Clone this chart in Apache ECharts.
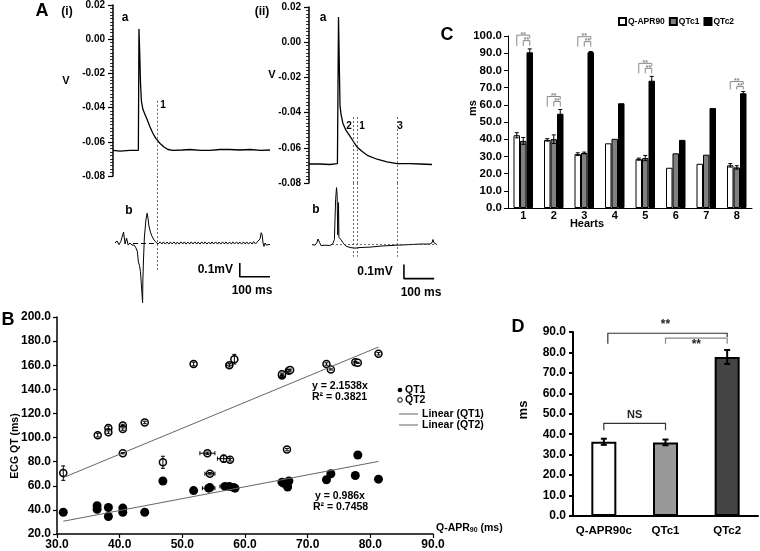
<!DOCTYPE html>
<html><head><meta charset="utf-8">
<script src="https://cdn.jsdelivr.net/npm/echarts@6/dist/echarts.min.js"></script>
<style>html,body{margin:0;padding:0;background:#fff}#c{width:760px;height:551px}</style>
</head><body><div id="c"></div>
<script>
// ---------- Panel A(i): action potential (ms, V) ----------
const apI = [[0,-0.065],[23,-0.0655],[56,-0.065],[84,-0.065],[86,0.006],[88,-0.005],[91,-0.025],[94,-0.036],[99,-0.041],[106,-0.044],[113,-0.047],[122,-0.051],[132,-0.055],[142,-0.058],[156,-0.061],[169,-0.063],[182,-0.0645],[199,-0.065],[230,-0.0648],[255,-0.0645],[290,-0.065],[321,-0.065],[355,-0.0645],[387,-0.0645],[420,-0.0648],[454,-0.0645],[490,-0.065],[520,-0.0648]];
// ECG (mV)
const ecgI = [[7,0],[13,0.015],[20,-0.012],[26,0.012],[31,0.02],[35,0.08],[40,-0.007],[45,0.036],[50,-0.015],[56,0],[63,-0.015],[70,-0.015],[76,-0.036],[81,-0.065],[84,-0.138],[88,-0.167],[91,-0.21],[94,-0.305],[98,-0.436],[99,-0.27],[101,-0.124],[104,0.044],[109,0.167],[113,0.218],[116,0.18],[119,0.124],[124,0.08],[129,0.05],[136,0.022],[142,0.007],[149,-0.007],
[156,0.008],[162,-0.007],[167,0.008],[173,-0.008],[179,0.007],[185,-0.008],[190,0.008],[196,-0.007],[202,0.008],[208,-0.008],[213,0.007],[219,-0.008],[225,0.008],[231,-0.007],[236,0.008],[242,-0.008],[248,0.007],[254,-0.008],[259,0.008],[265,-0.007],[271,0.008],[277,-0.008],[282,0.007],[288,-0.008],[294,0.008],[300,-0.007],[305,0.008],[311,-0.008],[317,0.007],[323,-0.008],[328,0.008],[334,-0.007],[340,0.008],[346,-0.008],[351,0.007],[357,-0.008],[363,0.008],[369,-0.007],[374,0.008],[380,-0.008],[386,0.007],[392,-0.008],[397,0.008],[403,-0.007],[409,0.008],[415,-0.008],[420,0.007],[426,-0.008],[432,0.008],[438,-0.007],[443,0.008],[449,-0.008],[455,0.007],[461,-0.008],[466,0.01],[472,-0.007],[478,0.008],[484,0.0],[487,0.03],[491,0.075],[494,0.06],[497,0.0],[500,-0.025],[504,0.0],[508,-0.015],[514,-0.005],[520,-0.01]];
const markI = [146];            // dotted line "1"
const ecgRefI = [66,146];       // dashed baseline segment
const scaleI = [[420,-0.147],[420,-0.247],[520,-0.247]]; // 0.1 mV / 100 ms

// ---------- Panel A(ii) ----------
const apII = [[0,-0.0692],[36,-0.0692],[69,-0.0695],[94,-0.069],[97.6,0.0143],[100,-0.01],[102.5,-0.036],[106,-0.041],[112,-0.046],[122,-0.05],[136,-0.0535],[149,-0.057],[159,-0.0595],[175,-0.062],[195,-0.0645],[225,-0.0665],[258,-0.068],[291,-0.069],[334,-0.069],[367,-0.0692],[407,-0.0695]];
const ecgII = [[10,0],[20,-0.004],[26,0.014],[30,0.04],[35,0.014],[40,-0.007],[53,-0.004],[69,-0.007],[79,0.007],[84,0.036],[88,0.32],[91,0.407],[93,0.357],[95,0.07],[97.6,0.3],[99,0.05],[101,0.05],[106,0.036],[112,0.014],[122,-0.011],[136,-0.021],[152,-0.025],[169,-0.021],[202,-0.018],[235,-0.011],[291,-0.004],[334,0],[367,0.004],[400,0.004],[407,0.014],[410,0.036],[413,0.014],[423,0]];
const marksII = [145.5,159,291]; // dotted lines "2","1","3"
const ecgRefII = [76,423];
const scaleII = [[314,-0.143],[314,-0.243],[414,-0.243]];

// ---------- Panel C ----------
const heartCats = ['1','2','3','4','5','6','7','8'];
const qapr90 = [42.3,39.6,31.3,37.6,28.4,23.4,25.7,24.8];
const qtc1   = [39.0,40.0,32.0,40.2,29.0,31.8,31.0,23.6];
const qtc2   = [90.5,54.8,90.6,60.9,74.0,39.6,58.1,66.7];
const errQapr = [1.5,0.7,0.8,0,0.6,0,0,1.0];
const errQtc1 = [2.0,2.5,0.5,0,1.5,0,0,1.0];
const errQtc2 = [2.0,2.5,0.4,0,2.5,0,0,1.0];
// significance brackets: [heart index, outer level, inner level, leg bottom]
const sigC = [[0,100.5,97.3,94.2],[1,64.8,61.9,59.0],[2,99.6,96.7,93.8],[4,84.1,81.2,78.3],[7,73.5,70.6,68.9]];

// ---------- Panel B ----------
const qt1X = [31.0,36.4,36.4,38.2,38.2,40.5,40.5,44.0,46.9,51.8,54.2,54.4,56.8,57.5,58.2,58.4,65.9,66.2,66.8,67.0,73.0,73.7,77.6,78.0,81.3];
const qt1Y = [38.0,43.5,40.5,42.0,34.5,41.5,38.0,38.0,64.0,56.0,58.0,58.5,59.5,59.5,58.5,58.0,63.0,62.0,59.0,64.0,65.0,70.0,68.5,85.5,65.5];
const qt1XErr = [0,0,0,0,0,0,0,0,0,0,1.0,0,0.8,0,0,0,0,0,0,0,0,0,0,0,0];
const qt2X = [31.0,36.5,38.2,38.2,40.5,40.5,40.5,44.0,46.9,51.8,54.0,54.4,56.6,57.6,57.5,58.3,65.9,65.9,67.0,67.2,66.7,73.0,73.7,77.6,78.0,81.3];
const qt2Y = [70.5,102.0,108.0,104.5,110.0,107.0,87.0,112.5,79.5,161.0,87.0,70.0,82.5,81.5,160.0,165.0,151.5,152.5,155.5,156.0,90.0,161.0,156.5,162.5,162.0,169.5];
const qt2XErr = [0,0,0,0,0,0,0,0,0,0,1.2,0.8,1.0,0,0.5,0,0,0,0,0,0,0,0,0,0,0];
const qt2YErr = [6,1.5,1.5,1,1,1,0.5,1,5,1.5,1,1,3,1,1.5,4,1,1,1,0.8,1,1,0.5,0.5,0.5,1];
const trend1 = [[31.0,30.6],[81.3,80.2]];   // y = 0.986x
const trend2 = [[31.0,66.8],[81.3,175.1]];  // y = 2.1538x

// ---------- Panel D ----------
const dCats = ['Q-APR90c','QTc1','QTc2'];
const dVals = [36.3,36.0,77.8];
const dErr  = [1.5,1.4,3.4];
// brackets: [from cat, to cat, level, left leg bottom, right leg bottom]
const sigD = [[0,1,45.3,42.0,42.0],[0,2,89.4,84.3,87.5],[1,2,87.0,84.3,84.3]];
const sigDLabels = ['NS','**','**'];

// ============================================================
const FONT = "'Liberation Sans', Arial, Helvetica, sans-serif";
const BW_C = 6.5;
const chart = echarts.init(document.getElementById('c'), null, {renderer:'canvas'});
const fmt = d => v => (Math.abs(v) < 1e-9 ? 0 : v).toFixed(d);
const lbl = (size, d) => ({color:'#000', fontWeight:'bold', fontSize:size, fontFamily:FONT, formatter: fmt(d)});
const hid = (g, min, max) => ({gridIndex:g, type:'value', min, max, show:false});
const apY = g => ({gridIndex:g, type:'value', min:-0.08, max:0.02, interval:0.02,
  axisLine:{show:true, lineStyle:{color:'#000', width:1.5}},
  axisTick:{show:true, length:5, lineStyle:{color:'#000', width:1.2}},
  minorTick:{show:true, splitNumber:10, length:3, lineStyle:{color:'#000', width:0.8}},
  splitLine:{show:false}, axisLabel:Object.assign(lbl(10,2), {margin:8})});
const vline = (t, a, b) => [{coord:[t, a]}, {coord:[t, b]}];
const dotted = {type:[2,2], color:'#444', width:0.8};

function errC(off) {
  return function (p, api) {
    const c = api.value(0), v = api.value(1), e = api.value(2);
    if (!e) return null;
    const t = api.coord([c, v + e]), b = api.coord([c, v - e]);
    const x = t[0] + off * BW_C;
    const st = {stroke:'#000', lineWidth:1};
    return {type:'group', children:[
      {type:'line', shape:{x1:x, y1:t[1], x2:x, y2:b[1]}, style:st},
      {type:'line', shape:{x1:x-2, y1:t[1], x2:x+2, y2:t[1]}, style:st},
      {type:'line', shape:{x1:x-2, y1:b[1], x2:x+2, y2:b[1]}, style:st}]};
  };
}
function sigCRender(p, api) {
  const c = api.value(0);
  const o = api.coord([c, api.value(1)]), n = api.coord([c, api.value(2)]), b = api.coord([c, api.value(3)]);
  const xw = o[0] - BW_C, xg = o[0], xb = o[0] + BW_C;
  const st = {stroke:'#888', lineWidth:1, fill:null};
  const tf = "bold 7px " + FONT;
  return {type:'group', children:[
    {type:'polyline', shape:{points:[[xw,b[1]],[xw,o[1]],[xb,o[1]],[xb,o[1]+3]]}, style:st},
    {type:'polyline', shape:{points:[[xg,b[1]],[xg,n[1]],[xb,n[1]],[xb,b[1]]]}, style:st},
    {type:'text', style:{text:'**', x:(xw+xb)/2, y:o[1]+3, font:tf, fill:'#888', textAlign:'center', textVerticalAlign:'bottom', align:'center', verticalAlign:'bottom'}},
    {type:'text', style:{text:'**', x:(xg+xb)/2, y:n[1]+3, font:tf, fill:'#888', textAlign:'center', textVerticalAlign:'bottom', align:'center', verticalAlign:'bottom'}}]};
}
function errB(p, api) {
  const x = api.value(0), y = api.value(1), ex = api.value(2), ey = api.value(3);
  const st = {stroke:'#000', lineWidth:1};
  const ch = [];
  if (ey > 0) {
    const a = api.coord([x, y + ey]), b = api.coord([x, y - ey]);
    ch.push({type:'line', shape:{x1:a[0], y1:a[1], x2:b[0], y2:b[1]}, style:st},
      {type:'line', shape:{x1:a[0]-2, y1:a[1], x2:a[0]+2, y2:a[1]}, style:st},
      {type:'line', shape:{x1:b[0]-2, y1:b[1], x2:b[0]+2, y2:b[1]}, style:st});
  }
  if (ex > 0) {
    const a = api.coord([x - ex, y]), b = api.coord([x + ex, y]);
    ch.push({type:'line', shape:{x1:a[0], y1:a[1], x2:b[0], y2:b[1]}, style:st},
      {type:'line', shape:{x1:a[0], y1:a[1]-2, x2:a[0], y2:a[1]+2}, style:st},
      {type:'line', shape:{x1:b[0], y1:b[1]-2, x2:b[0], y2:b[1]+2}, style:st});
  }
  return {type:'group', children:ch};
}
function errD(p, api) {
  const c = api.value(0), v = api.value(1), e = api.value(2);
  const t = api.coord([c, v + e]), b = api.coord([c, v - e]);
  const st = {stroke:'#000', lineWidth:2};
  return {type:'group', children:[
    {type:'line', shape:{x1:t[0], y1:t[1], x2:t[0], y2:b[1]}, style:st},
    {type:'line', shape:{x1:t[0]-3, y1:t[1], x2:t[0]+3, y2:t[1]}, style:st},
    {type:'line', shape:{x1:b[0]-3, y1:b[1], x2:b[0]+3, y2:b[1]}, style:st}]};
}
function sigDRender(p, api) {
  const i = p.dataIndex;
  const a = api.coord([api.value(0), api.value(2)]), b = api.coord([api.value(1), api.value(2)]);
  const la = api.coord([api.value(0), api.value(3)]), lb = api.coord([api.value(1), api.value(4)]);
  const gray = i === 2;
  const st = {stroke: gray ? '#888' : '#333', lineWidth:1.2, fill:null};
  const below = i === 2;
  return {type:'group', children:[
    {type:'polyline', shape:{points:[[a[0]+ (i===1?4:0), la[1]],[a[0]+(i===1?4:0), a[1]],[b[0], b[1]],[b[0], lb[1]]]}, style:st},
    {type:'text', style:{text:sigDLabels[i], x:(a[0]+b[0])/2, y: below ? a[1]+1 : a[1]-3,
      font:"bold " + (i===0?11:12) + "px " + FONT, fill:'#222',
      textAlign:'center', textVerticalAlign: below ? 'top' : 'bottom', align:'center', verticalAlign: below ? 'top' : 'bottom'}}]};
}

const txt = (text, x, y, size, opt) => Object.assign({type:'text', x, y, style:Object.assign({text, font:'bold ' + size + 'px ' + FONT, fill:'#000', textAlign:'center', textVerticalAlign:'middle', align:'center', verticalAlign:'middle'}, opt || {})});

const option = {
  animation:false,
  backgroundColor:'#fff',
  grid:[
    {left:113, top:5, width:160, height:171},
    {left:113, top:176, width:160, height:134},
    {left:309, top:7, width:130, height:176},
    {left:309, top:183, width:130, height:126},
    {left:508, top:36, width:244, height:172},
    {left:57, top:317, width:376, height:217},
    {left:573, top:332, width:185, height:184}
  ],
  xAxis:[
    hid(0,0,530), hid(1,0,530), hid(2,0,430), hid(3,0,430),
    {gridIndex:4, type:'category', data:heartCats,
      axisLine:{lineStyle:{color:'#000', width:1}}, axisTick:{length:4, lineStyle:{color:'#000'}},
      axisLabel:{color:'#000', fontWeight:'bold', fontSize:11, fontFamily:FONT, margin:2, interval:0}},
    {gridIndex:5, type:'value', min:30, max:90, interval:10,
      axisLine:{lineStyle:{color:'#000', width:1.5}}, axisTick:{show:true, length:4, lineStyle:{color:'#000', width:1.2}},
      splitLine:{show:false}, axisLabel:Object.assign(lbl(12,1), {margin:5})},
    {gridIndex:6, type:'category', data:dCats,
      axisLine:{lineStyle:{color:'#000', width:2}}, axisTick:{show:false},
      axisLabel:{color:'#000', fontWeight:'bold', fontSize:11.5, fontFamily:FONT, margin:9, interval:0, hideOverlap:false}}
  ],
  yAxis:[
    apY(0), hid(1,-0.49,0.49), apY(2), hid(3,-0.46,0.44),
    {gridIndex:4, type:'value', min:0, max:100, interval:10,
      axisLine:{show:true, lineStyle:{color:'#000', width:1}}, axisTick:{show:true, length:4, lineStyle:{color:'#000'}},
      splitLine:{show:false}, axisLabel:Object.assign(lbl(11.5,1), {margin:6})},
    {gridIndex:5, type:'value', min:20, max:200, interval:20,
      axisLine:{show:true, lineStyle:{color:'#000', width:1.5}}, axisTick:{show:true, length:4, lineStyle:{color:'#000', width:1.2}},
      splitLine:{show:false}, axisLabel:Object.assign(lbl(12,1), {margin:6})},
    {gridIndex:6, type:'value', min:0, max:90, interval:10,
      axisLine:{show:true, lineStyle:{color:'#000', width:2}}, axisTick:{show:true, length:4, lineStyle:{color:'#000', width:2}},
      splitLine:{show:false}, axisLabel:Object.assign(lbl(12,1), {margin:7})}
  ],
  legend:[{
    data:['Q-APR90','QTc1','QTc2'], left:613, top:12, itemWidth:7, itemHeight:7, itemGap:4,
    selectedMode:false, icon:'rect',
    textStyle:{color:'#000', fontWeight:'bold', fontSize:8.5, fontFamily:FONT, padding:[0,0,0,-3]}
  }],
  series:[
    {type:'line', xAxisIndex:0, yAxisIndex:0, data:apI, showSymbol:false, lineStyle:{color:'#000', width:1.3},
      markLine:{symbol:'none', silent:true, label:{show:false}, lineStyle:dotted,
        data: markI.map(t => vline(t, -0.036, -0.08))}},
    {type:'line', xAxisIndex:1, yAxisIndex:1, data:ecgI, showSymbol:false, lineStyle:{color:'#000', width:1},
      markLine:{symbol:'none', silent:true, label:{show:false}, lineStyle:dotted,
        data: markI.map(t => vline(t, 0.49, -0.196)).concat([[{coord:[ecgRefI[0],0], lineStyle:{type:[5,3], color:'#000', width:1}},{coord:[ecgRefI[1],0]}]])}},
    {type:'line', xAxisIndex:1, yAxisIndex:1, data:scaleI, showSymbol:false, lineStyle:{color:'#000', width:1.6}},
    {type:'line', xAxisIndex:2, yAxisIndex:2, data:apII, showSymbol:false, lineStyle:{color:'#000', width:1.3},
      markLine:{symbol:'none', silent:true, label:{show:false}, lineStyle:dotted,
        data: marksII.map(t => vline(t, -0.0425, -0.08))}},
    {type:'line', xAxisIndex:3, yAxisIndex:3, data:ecgII, showSymbol:false, lineStyle:{color:'#000', width:1},
      markLine:{symbol:'none', silent:true, label:{show:false}, lineStyle:dotted,
        data: marksII.map(t => vline(t, 0.44, -0.086)).concat([[{coord:[ecgRefII[0],0]},{coord:[ecgRefII[1],0]}]])}},
    {type:'line', xAxisIndex:3, yAxisIndex:3, data:scaleII, showSymbol:false, lineStyle:{color:'#000', width:1.6}},
    // C bars
    {name:'Q-APR90', type:'bar', xAxisIndex:4, yAxisIndex:4, data:qapr90, barWidth:BW_C, barGap:'0%',
      itemStyle:{color:'#fff', borderColor:'#000', borderWidth:1}},
    {name:'QTc1', type:'bar', xAxisIndex:4, yAxisIndex:4, data:qtc1, barWidth:BW_C, barGap:'0%',
      itemStyle:{color:'#808080', borderColor:'#000', borderWidth:1}},
    {name:'QTc2', type:'bar', xAxisIndex:4, yAxisIndex:4, data:qtc2, barWidth:BW_C, barGap:'0%',
      itemStyle:{color:'#000', borderColor:'#000', borderWidth:1}},
    {type:'custom', coordinateSystem:'cartesian2d', xAxisIndex:4, yAxisIndex:4, z:5, renderItem:errC(-1), data:qapr90.map((v,i)=>[i,v,errQapr[i]])},
    {type:'custom', coordinateSystem:'cartesian2d', xAxisIndex:4, yAxisIndex:4, z:5, renderItem:errC(0), data:qtc1.map((v,i)=>[i,v,errQtc1[i]])},
    {type:'custom', coordinateSystem:'cartesian2d', xAxisIndex:4, yAxisIndex:4, z:5, renderItem:errC(1), data:qtc2.map((v,i)=>[i,v,errQtc2[i]])},
    {type:'custom', coordinateSystem:'cartesian2d', xAxisIndex:4, yAxisIndex:4, z:5, renderItem:sigCRender, data:sigC},
    // B
    {type:'line', xAxisIndex:5, yAxisIndex:5, data:trend1, showSymbol:false, lineStyle:{color:'#666', width:1}},
    {type:'line', xAxisIndex:5, yAxisIndex:5, data:trend2, showSymbol:false, lineStyle:{color:'#666', width:1}},
    {name:'QT1', type:'scatter', xAxisIndex:5, yAxisIndex:5, symbolSize:9, data:qt1X.map((x,i)=>[x,qt1Y[i]]),
      itemStyle:{color:'#000', opacity:1}},
    {name:'QT2', type:'scatter', xAxisIndex:5, yAxisIndex:5, symbolSize:7, data:qt2X.map((x,i)=>[x,qt2Y[i]]),
      itemStyle:{color:'#fff', borderColor:'#000', borderWidth:1.5, opacity:1}},
    {type:'custom', coordinateSystem:'cartesian2d', xAxisIndex:5, yAxisIndex:5, z:6, renderItem:errB,
      data:qt2X.map((x,i)=>[x,qt2Y[i],qt2XErr[i],qt2YErr[i]]).concat(qt1X.map((x,i)=>[x,qt1Y[i],qt1XErr[i],0]))},
    // D
    {type:'bar', xAxisIndex:6, yAxisIndex:6, barWidth:25,
      data:dVals.map((v,i)=>({value:v, itemStyle:{color:['#fff','#999','#444'][i]}})),
      itemStyle:{borderColor:'#000', borderWidth:2}},
    {type:'custom', coordinateSystem:'cartesian2d', xAxisIndex:6, yAxisIndex:6, z:5, renderItem:errD, data:dVals.map((v,i)=>[i,v,dErr[i]])},
    {type:'custom', coordinateSystem:'cartesian2d', xAxisIndex:6, yAxisIndex:6, z:5, renderItem:sigDRender, data:sigD}
  ],
  graphic:[
    txt('A', 42, 11, 18), txt('(i)', 67, 12, 12), txt('(ii)', 262, 12, 12),
    txt('V', 66, 81, 11), txt('V', 272, 75, 11),
    txt('a', 125, 18, 12), txt('a', 323, 18, 12),
    txt('b', 129, 211, 12), txt('b', 316, 210, 12),
    txt('1', 163, 105, 10), txt('2', 349, 126, 10), txt('1', 362, 126, 10), txt('3', 400, 126, 10),
    txt('0.1mV', 233, 270, 12, {textAlign:'right', align:'right'}),
    txt('100 ms', 252, 291, 12),
    txt('0.1mV', 375, 272, 12), txt('100 ms', 421, 293, 12),
    txt('C', 447, 35, 18), txt('Hearts', 587, 224, 11),
    {type:'text', x:473, y:108, rotation:Math.PI/2, style:{text:'ms', font:'bold 11px ' + FONT, fill:'#000', textAlign:'center', textVerticalAlign:'middle', align:'center', verticalAlign:'middle'}},
    txt('B', 8, 320, 18),
    {type:'text', x:15, y:446, rotation:Math.PI/2, style:{text:'ECG QT (ms)', font:'bold 10.5px ' + FONT, fill:'#000', textAlign:'center', textVerticalAlign:'middle', align:'center', verticalAlign:'middle'}},
    txt('y = 2.1538x', 312, 386, 10.5, {textAlign:'left', align:'left'}),
    txt('R² = 0.3821', 312, 397, 10.5, {textAlign:'left', align:'left'}),
    txt('y = 0.986x', 315, 496, 10.5, {textAlign:'left', align:'left'}),
    txt('R² = 0.7458', 313, 507, 10.5, {textAlign:'left', align:'left'}),
    {type:'circle', shape:{cx:400, cy:390, r:2.3}, style:{fill:'#000'}},
    txt('QT1', 405, 390, 10.5, {textAlign:'left', align:'left'}),
    {type:'circle', shape:{cx:400, cy:400, r:2.3}, style:{fill:'#fff', stroke:'#000', lineWidth:1}},
    txt('QT2', 405, 400, 10.5, {textAlign:'left', align:'left'}),
    {type:'line', shape:{x1:399, y1:414, x2:418, y2:414}, style:{stroke:'#666', lineWidth:1}},
    txt('Linear (QT1)', 422, 414, 10.5, {textAlign:'left', align:'left'}),
    {type:'line', shape:{x1:399, y1:425, x2:418, y2:425}, style:{stroke:'#666', lineWidth:1}},
    txt('Linear (QT2)', 422, 425, 10.5, {textAlign:'left', align:'left'}),
    {type:'text', x:436, y:528, style:{text:'{a|Q-APR}{s|90}{a| (ms)}', fill:'#000', textAlign:'left', textVerticalAlign:'middle', align:'left', verticalAlign:'middle',
      rich:{a:{fontFamily:FONT, fontWeight:'bold', fontSize:10.5}, s:{fontFamily:FONT, fontWeight:'bold', fontSize:7, padding:[4,0,0,0]}}}},
    txt('D', 518, 327, 18),
    {type:'text', x:523, y:410, rotation:Math.PI/2, style:{text:'ms', font:'bold 13px ' + FONT, fill:'#000', textAlign:'center', textVerticalAlign:'middle', align:'center', verticalAlign:'middle'}}
  ]
};
chart.setOption(option);
</script></body></html>
